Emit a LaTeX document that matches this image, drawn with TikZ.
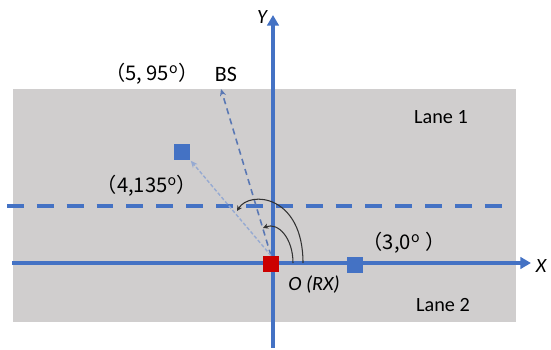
\documentclass[tikz,border=0pt]{standalone}
\usepackage{fontspec}
\setmainfont{Carlito}
\newfontfamily\cjk{Noto Sans CJK SC}
\usetikzlibrary{positioning,arrows.meta}
\definecolor{axisblue}{RGB}{68,114,196}
\definecolor{lanegray}{RGB}{208,206,206}
\definecolor{rxred}{RGB}{204,0,0}
\definecolor{raydark}{RGB}{90,120,180}
\definecolor{raylight}{RGB}{150,170,210}
\definecolor{anglegray}{RGB}{50,50,50}
\tikzset{
    axis/.style={line width=2pt,draw=axisblue,-{Triangle[length=6pt,width=6.5pt]}},
    lanesep/.style={axisblue,line width=2.2pt,dash pattern=on 9.6pt off 7.4pt},
    sq/.style={rectangle,fill=axisblue,minimum size=9.6pt,inner sep=0pt},
    rx/.style={rectangle,fill=rxred,minimum size=9.1pt,inner sep=0pt},
    lbl/.style={inner sep=1pt,font=\fontsize{11.5}{13}\selectfont},
    ray/.style={raydark,line width=0.9pt,dash pattern=on 3.5pt off 2.5pt,-{Stealth[length=4pt,width=3.5pt]}},
    rayfaint/.style={raylight,line width=0.8pt,dash pattern=on 2pt off 1.2pt,-{Stealth[length=4pt,width=3.5pt]}},
    angarc/.style={anglegray,line width=0.6pt,-{Stealth[length=3pt,width=3pt]}},
}
\begin{document}
\begin{tikzpicture}[x=0.02cm,y=-0.02cm]
\useasboundingbox (0,0) rectangle (551,350);
% lanes
\fill[lanegray] (13,89) rectangle (516,322);
\draw[lanesep] (7,206) -- (512,206);
% axes
\coordinate (xs) at (12,263);
\coordinate (xe) at (531,263);
\coordinate (ys) at (273,348);
\coordinate (ye) at (273,15);
\draw[axis] (xs) -- (xe);
\draw[axis] (ys) -- (ye);
% receiver and points
\node[rx] (O) at (271,264) {};
\node[sq] (p3) at (355,265) {};
\node[sq] (p4) at (182,152) {};
\coordinate (bstip) at (221,89);
\draw[ray] (O.north) -- (bstip);
\draw[rayfaint] (O.north) -- (p4.south east);
% angles
\draw[angarc] (303,263) .. controls (303,195) and (250,190) .. (237,211);
\draw[angarc] (293,263) .. controls (293,238) and (278,222) .. (263,228);
% labels
\node[lbl,font=\fontsize{12.5}{14}\selectfont] (bs) at (226,74) {BS};
\node[lbl] (l5) at (152,74) {\cjk{（}5, 95\textsuperscript{o}\cjk{）}};
\node[lbl] (l4) at (147,186) {\cjk{（}4,135\textsuperscript{o}\cjk{）}};
\node[lbl] (l3) at (404,243) {\cjk{（}3,0\textsuperscript{o} \cjk{）}};
\node[lbl] (lane1) at (441,117) {Lane 1};
\node[lbl] (lane2) at (443,305) {Lane 2};
\node[lbl] (olbl) at (314,285) {\itshape O (RX)};
\node[lbl] (xl) at (541,266) {\itshape X};
\node[lbl] (yl) at (262,17) {\itshape Y};
\end{tikzpicture}
\end{document}
